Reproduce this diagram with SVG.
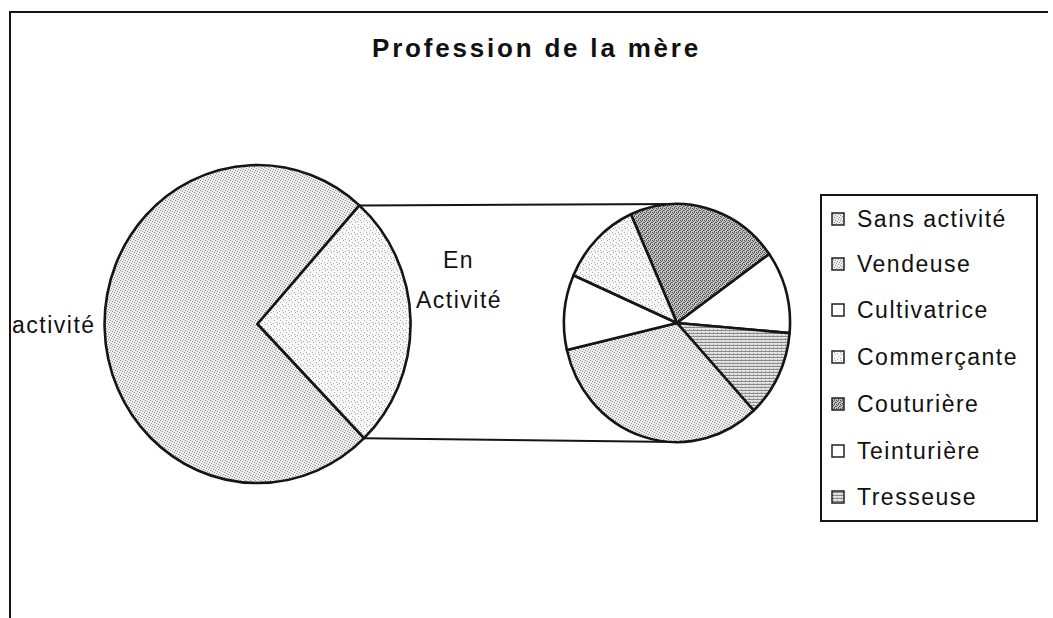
<svg xmlns="http://www.w3.org/2000/svg" width="1053" height="618" viewBox="0 0 1053 618">
<style>
  .t{font-family:"Liberation Sans",Arial,sans-serif;fill:#111;}
  .title{font-size:26px;font-weight:bold;letter-spacing:2.8px;}
  .lbl{font-size:23px;letter-spacing:1.5px;}
  .slice{stroke:#151515;stroke-width:2.6;stroke-linejoin:round;}
  .conn{stroke:#151515;stroke-width:2;fill:none;}
  .sw{stroke:#222;stroke-width:1.5;}
</style>
<defs>
  <pattern id="stipA" patternUnits="userSpaceOnUse" width="5" height="5">
    <rect width="5" height="5" fill="#ececec"/>
    <rect x="0" y="0" width="1" height="1" fill="#8f8f8f"/>
    <rect x="2" y="1" width="1" height="1" fill="#9a9a9a"/>
    <rect x="4" y="2" width="1" height="1" fill="#8f8f8f"/>
    <rect x="1" y="3" width="1" height="1" fill="#a5a5a5"/>
    <rect x="3" y="4" width="1" height="1" fill="#999"/>
  </pattern>
  <pattern id="stipB" patternUnits="userSpaceOnUse" width="6" height="6">
    <rect width="6" height="6" fill="#f7f7f7"/>
    <rect x="1" y="0" width="1" height="1" fill="#a0a0a0"/>
    <rect x="4" y="2" width="1" height="1" fill="#aaa"/>
    <rect x="0" y="4" width="1" height="1" fill="#a5a5a5"/>
    <rect x="3" y="5" width="1" height="1" fill="#b0b0b0"/>
  </pattern>
  <pattern id="stipD" patternUnits="userSpaceOnUse" width="4" height="4">
    <rect width="4" height="4" fill="#c4c4c4"/>
    <rect x="0" y="0" width="1" height="1" fill="#4a4a4a"/>
    <rect x="2" y="0" width="1" height="1" fill="#666"/>
    <rect x="1" y="1" width="1" height="1" fill="#555"/>
    <rect x="3" y="2" width="1" height="1" fill="#4a4a4a"/>
    <rect x="0" y="2" width="1" height="1" fill="#777"/>
    <rect x="2" y="3" width="1" height="1" fill="#555"/>
  </pattern>
  <pattern id="stripe" patternUnits="userSpaceOnUse" width="4" height="3">
    <rect width="4" height="3" fill="#e2e2e2"/>
    <rect x="0" y="0" width="4" height="1" fill="#8a8a8a"/>
    <rect x="1" y="2" width="1" height="1" fill="#aaa"/>
  </pattern>
</defs>

<rect width="1053" height="618" fill="#fff"/>

<g id="frame">
  <path d="M10,618 V12 H1048" fill="none" stroke="#151515" stroke-width="2"/>
</g>

<g id="title">
  <text class="t title" x="372" y="57">Profession de la mère</text>
</g>

<g id="connectors">
  <line class="conn" x1="359.4" y1="205.4" x2="677" y2="204"/>
  <line class="conn" x1="364.1" y1="438.2" x2="677" y2="442"/>
</g>

<g id="pie-main">
  <path class="slice" fill="url(#stipA)" d="M257.5,324 L364.1,438.2 A153,159 0 1 1 359.4,205.4 Z"/>
  <path class="slice" fill="url(#stipB)" d="M257.5,324 L359.4,205.4 A153,159 0 0 1 364.1,438.2 Z"/>
</g>

<g id="label-sans-activite">
  <text class="t lbl" x="12" y="333">activité</text>
</g>

<g id="label-en-activite">
  <text class="t lbl" x="443" y="268">En</text>
  <text class="t lbl" x="416" y="308">Activité</text>
</g>

<g id="pie-sub">
  <path class="slice" fill="url(#stipD)" d="M677,323 L630.9,214.3 A113,119 0 0 1 769.2,254.1 Z"/>
  <path class="slice" fill="#fff" d="M677,323 L769.2,254.1 A113,119 0 0 1 789.6,333.1 Z"/>
  <path class="slice" fill="url(#stripe)" d="M677,323 L789.6,333.1 A113,119 0 0 1 753.7,410.5 Z"/>
  <path class="slice" fill="url(#stipA)" d="M677,323 L753.7,410.5 A113,119 0 0 1 566.9,350 Z"/>
  <path class="slice" fill="#fff" d="M677,323 L566.9,350 A113,119 0 0 1 573.5,275.2 Z"/>
  <path class="slice" fill="url(#stipB)" d="M677,323 L573.5,275.2 A113,119 0 0 1 630.9,214.3 Z"/>
</g>

<g id="legend">
  <rect x="821" y="195" width="216" height="326" fill="#fff" stroke="#151515" stroke-width="2"/>
  <rect class="sw" x="832" y="213" width="12" height="12" fill="url(#stipA)"/>
  <text class="t lbl" x="857" y="227">Sans activité</text>
  <rect class="sw" x="832" y="258" width="12" height="12" fill="url(#stipA)"/>
  <text class="t lbl" x="857" y="272">Vendeuse</text>
  <rect class="sw" x="832" y="304" width="12" height="12" fill="#fff"/>
  <text class="t lbl" x="857" y="318">Cultivatrice</text>
  <rect class="sw" x="832" y="351" width="12" height="12" fill="url(#stipB)"/>
  <text class="t lbl" x="857" y="365">Commerçante</text>
  <rect class="sw" x="832" y="398" width="12" height="12" fill="url(#stipD)"/>
  <text class="t lbl" x="857" y="412">Couturière</text>
  <rect class="sw" x="832" y="445" width="12" height="12" fill="#fff"/>
  <text class="t lbl" x="857" y="459">Teinturière</text>
  <rect class="sw" x="832" y="491" width="12" height="12" fill="url(#stripe)"/>
  <text class="t lbl" x="857" y="505">Tresseuse</text>
</g>
</svg>
